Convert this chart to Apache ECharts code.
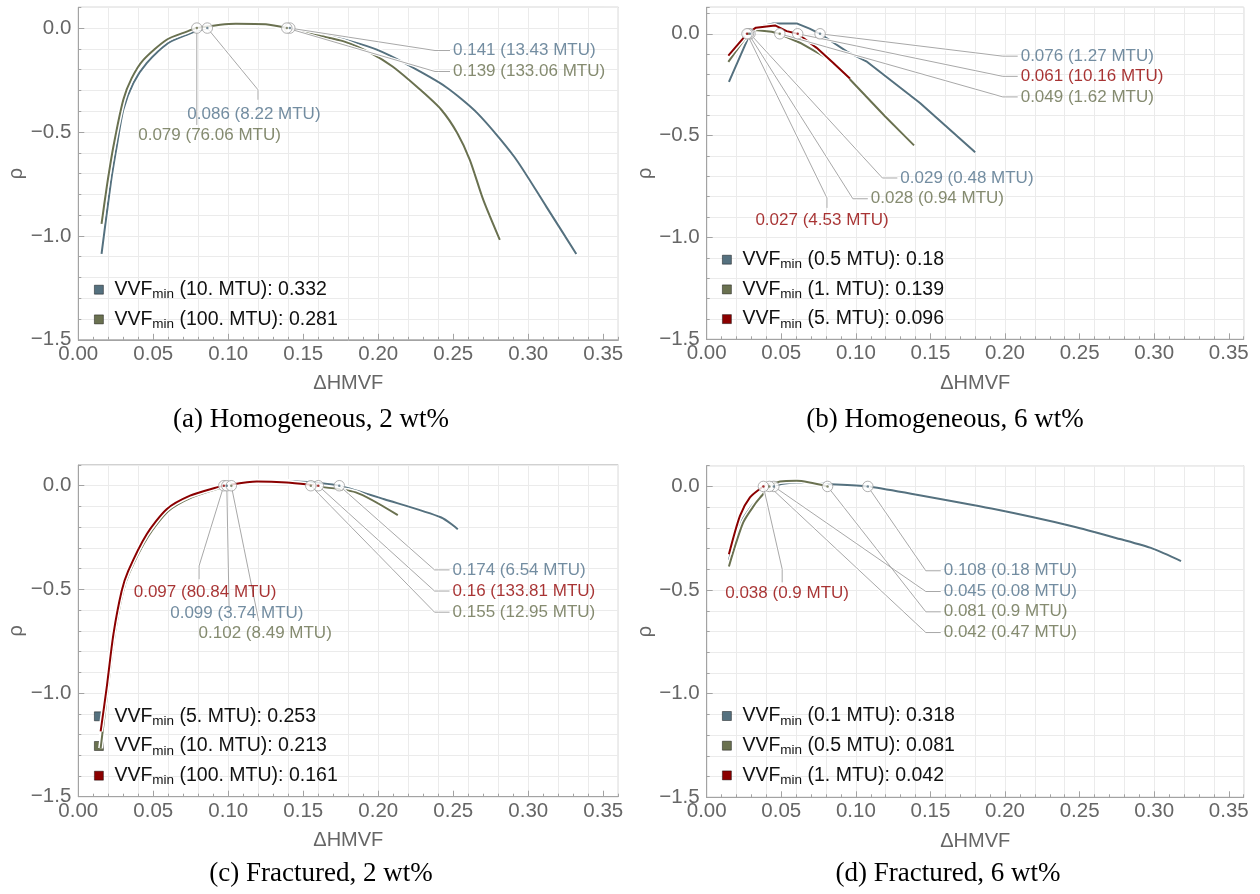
<!DOCTYPE html>
<html>
<head>
<meta charset="utf-8">
<title>rho vs dHMVF</title>
<script src="https://cdn.jsdelivr.net/npm/echarts@6/dist/echarts.min.js"></script>
<style>
  html, body { margin: 0; padding: 0; background: #fff; }
  #chart { width: 1260px; height: 894px; }
</style>
</head>
<body>
<div id="chart"></div>
<script>
// colours: blue, olive, red
const curveColors = ['#55717f', '#6a7150', '#8b0000'];
const textColors = ['#50708a', '#676e4c', '#920000'];

// ---- (a) Homogeneous, 2 wt% ----
const a10X = [0.0155, 0.019, 0.0223, 0.0256, 0.030, 0.0367, 0.0456, 0.060, 0.0723, 0.086, 0.105, 0.125, 0.141, 0.1635, 0.182, 0.199, 0.2176, 0.2446, 0.266, 0.2905, 0.312, 0.332];
const a10Y = [-1.087, -0.891, -0.714, -0.57, -0.393, -0.265, -0.169, -0.072, -0.032, 0.0, 0.021, 0.018, 0.0, -0.032, -0.064, -0.104, -0.169, -0.281, -0.409, -0.618, -0.859, -1.087];
const a100X = [0.0155, 0.019, 0.0234, 0.030, 0.0356, 0.0434, 0.0589, 0.0723, 0.079, 0.105, 0.125, 0.139, 0.16, 0.177, 0.195, 0.2095, 0.228, 0.242, 0.2527, 0.261, 0.270, 0.281];
const a100Y = [-0.942, -0.763, -0.57, -0.345, -0.241, -0.153, -0.056, -0.017, 0.0, 0.021, 0.018, 0.0, -0.036, -0.064, -0.12, -0.185, -0.297, -0.393, -0.506, -0.634, -0.827, -1.019];
const aMtu = ['10.', '100.'];
const aMax = [0.332, 0.281];
const aCrossX = [0.141, 0.139, 0.086, 0.079];
const aCrossMtu = ['13.43', '133.06', '8.22', '76.06'];
const aCrossCurve = [0, 1, 0, 1];

// ---- (b) Homogeneous, 6 wt% ----
const b05X = [0.0149, 0.029, 0.0324, 0.0446, 0.0603, 0.069, 0.076, 0.0938, 0.107, 0.143, 0.18];
const b05Y = [-0.236, 0.0, 0.03, 0.051, 0.051, 0.025, 0.0, -0.086, -0.135, -0.34, -0.582];
const b1X = [0.0145, 0.028, 0.0324, 0.0435, 0.0485, 0.0625, 0.0804, 0.095, 0.1195, 0.1296, 0.139];
const b1Y = [-0.138, 0.0, 0.018, 0.01, 0.0, -0.044, -0.118, -0.216, -0.405, -0.479, -0.548];
const b5X = [0.0145, 0.027, 0.033, 0.0458, 0.0536, 0.061, 0.0737, 0.0849, 0.096];
const b5Y = [-0.107, 0.0, 0.03, 0.041, 0.013, 0.0, -0.069, -0.143, -0.22];
const bMtu = ['0.5', '1.', '5.'];
const bMax = [0.18, 0.139, 0.096];
const bCrossX = [0.076, 0.061, 0.049, 0.029, 0.028, 0.027];
const bCrossMtu = ['1.27', '10.16', '1.62', '0.48', '0.94', '4.53'];
const bCrossCurve = [0, 2, 1, 0, 1, 2];

// ---- (c) Fractured, 2 wt% ----
const c5X = [0.0149, 0.0192, 0.0237, 0.0292, 0.0337, 0.046, 0.0595, 0.075, 0.093, 0.099, 0.12, 0.145, 0.162, 0.174, 0.204, 0.242, 0.253];
const c5Y = [-1.24, -0.98, -0.72, -0.515, -0.415, -0.24, -0.118, -0.052, -0.01, 0.0, 0.021, 0.02, 0.012, 0.0, -0.065, -0.153, -0.21];
const c10X = [0.0149, 0.0195, 0.024, 0.0295, 0.034, 0.0465, 0.06, 0.076, 0.094, 0.102, 0.122, 0.14, 0.155, 0.185, 0.213];
const c10Y = [-1.266, -0.99, -0.73, -0.52, -0.42, -0.245, -0.122, -0.055, -0.012, 0.0, 0.02, 0.014, 0.0, -0.032, -0.142];
const c100X = [0.0149, 0.0189, 0.0234, 0.0289, 0.0333, 0.0456, 0.0589, 0.0745, 0.0923, 0.097, 0.119, 0.139, 0.155, 0.161];
const c100Y = [-1.185, -0.975, -0.717, -0.508, -0.411, -0.234, -0.113, -0.048, -0.008, 0.0, 0.021, 0.016, 0.004, -0.002];
const cMtu = ['5.', '10.', '100.'];
const cMax = [0.253, 0.213, 0.161];
const cCrossX = [0.174, 0.16, 0.155, 0.097, 0.099, 0.102];
const cCrossMtu = ['6.54', '133.81', '12.95', '80.84', '3.74', '8.49'];
const cCrossCurve = [0, 2, 1, 2, 0, 1];

// ---- (d) Fractured, 6 wt% ----
const d01X = [0.0149, 0.0223, 0.0313, 0.045, 0.0603, 0.0804, 0.108, 0.137, 0.191, 0.245, 0.277, 0.299, 0.318];
const d01Y = [-0.355, -0.182, -0.085, 0.0, 0.019, 0.012, 0.0, -0.035, -0.107, -0.192, -0.254, -0.30, -0.36];
const d05X = [0.0149, 0.0245, 0.0324, 0.0369, 0.042, 0.0491, 0.0603, 0.081];
const d05Y = [-0.386, -0.174, -0.085, -0.045, 0.0, 0.024, 0.027, 0.0];
const d1X = [0.0149, 0.0223, 0.029, 0.0369, 0.038, 0.042];
const d1Y = [-0.327, -0.142, -0.053, -0.005, 0.0, 0.01];
const dMtu = ['0.1', '0.5', '1.'];
const dMax = [0.318, 0.081, 0.042];
const dCrossX = [0.108, 0.045, 0.081, 0.042, 0.038];
const dCrossMtu = ['0.18', '0.08', '0.9', '0.47', '0.9'];
const dCrossCurve = [0, 0, 1, 1, 2];

// callout label placement (data units of each panel)
const aCallouts = [
  { lx: 0.2498, ly: -0.108, align: 'left' },
  { lx: 0.2498, ly: -0.209, align: 'left' },
  { lx: 0.1171, ly: -0.414, align: 'center', path: [[0.1198, -0.297], [0.1198, -0.345]] },
  { lx: 0.0875, ly: -0.514, align: 'center', path: [[0.079, -0.466]] }
];
const bCallouts = [
  { lx: 0.2105, ly: -0.110, align: 'left' },
  { lx: 0.2105, ly: -0.209, align: 'left' },
  { lx: 0.2105, ly: -0.310, align: 'left' },
  { lx: 0.1298, ly: -0.708, align: 'left' },
  { lx: 0.1100, ly: -0.810, align: 'left' },
  { lx: 0.0773, ly: -0.918, align: 'center', path: [[0.0806, -0.806], [0.0806, -0.855]] }
];
const cCallouts = [
  { lx: 0.2495, ly: -0.406, align: 'left' },
  { lx: 0.2495, ly: -0.508, align: 'left' },
  { lx: 0.2495, ly: -0.610, align: 'left' },
  { lx: 0.0845, ly: -0.516, align: 'center', path: [[0.0805, -0.387], [0.0805, -0.451]] },
  { lx: 0.1057, ly: -0.616, align: 'center', path: [[0.1005, -0.580]] },
  { lx: 0.1246, ly: -0.714, align: 'center', path: [[0.1203, -0.653]] }
];
const dCallouts = [
  { lx: 0.1589, ly: -0.407, align: 'left' },
  { lx: 0.1589, ly: -0.507, align: 'left' },
  { lx: 0.1589, ly: -0.605, align: 'left' },
  { lx: 0.1589, ly: -0.705, align: 'left' },
  { lx: 0.0539, ly: -0.515, align: 'center', path: [[0.0506, -0.399], [0.0506, -0.463]] }
];

const panels = [
  { grid: { left: 78.3, top: 7.3, width: 540, height: 332.5 }, ymax: 0.1, smooth: 0.25,
    xs: [a10X, a100X], ys: [a10Y, a100Y], mtu: aMtu, max: aMax,
    crossX: aCrossX, crossMtu: aCrossMtu, crossCurve: aCrossCurve, callouts: aCallouts,
    legend: { left: 89, top: 274.7 }, caption: '(a) Homogeneous, 2 wt%', capX: 311, capY: 420 },
  { grid: { left: 706.7, top: 7.3, width: 537, height: 332 }, ymax: 0.13, smooth: false,
    xs: [b05X, b1X, b5X], ys: [b05Y, b1Y, b5Y], mtu: bMtu, max: bMax,
    crossX: bCrossX, crossMtu: bCrossMtu, crossCurve: bCrossCurve, callouts: bCallouts,
    legend: { left: 717, top: 244.7 }, caption: '(b) Homogeneous, 6 wt%', capX: 945, capY: 420 },
  { grid: { left: 78.3, top: 465, width: 540, height: 331.7 }, ymax: 0.1, smooth: 0.25,
    xs: [c5X, c10X, c100X], ys: [c5Y, c10Y, c100Y], mtu: cMtu, max: cMax,
    crossX: cCrossX, crossMtu: cCrossMtu, crossCurve: cCrossCurve, callouts: cCallouts,
    legend: { left: 89, top: 701.3 }, caption: '(c) Fractured, 2 wt%', capX: 321, capY: 874 },
  { grid: { left: 706.7, top: 465.7, width: 537, height: 331.6 }, ymax: 0.1, smooth: 0.25,
    xs: [d01X, d05X, d1X], ys: [d01Y, d05Y, d1Y], mtu: dMtu, max: dMax,
    crossX: dCrossX, crossMtu: dCrossMtu, crossCurve: dCrossCurve, callouts: dCallouts,
    legend: { left: 717, top: 701 }, caption: '(d) Fractured, 6 wt%', capX: 948, capY: 874 }
];

const SANS = 'Liberation Sans, Arial, sans-serif';
const frameColor = '#a3a3a3';
const gridColor = '#ebebeb';
const labelGray = '#666666';

const zip = (xs, ys) => xs.map((x, i) => [x, ys[i]]);
const minus = v => (v < 0 ? '\u2212' : '') + Math.abs(v).toFixed(1);

const grids = [], xAxes = [], yAxes = [], series = [], legends = [], graphics = [];

panels.forEach((p, i) => {
  grids.push(Object.assign({ show: true, borderColor: frameColor, borderWidth: 1, backgroundColor: '#fff', containLabel: false }, p.grid));

  // main x axis: labels + major ticks
  xAxes.push({
    gridIndex: i, type: 'value', min: 0, max: 0.36, interval: 0.05, position: 'bottom',
    axisLine: { show: true, onZero: false, lineStyle: { color: frameColor } },
    axisTick: { show: true, inside: true, length: 6, lineStyle: { color: frameColor } },
    splitLine: { show: false },
    axisLabel: { color: labelGray, fontSize: 20.5, fontFamily: SANS, margin: 4, showMaxLabel: false,
      formatter: v => v.toFixed(2) },
    name: '\u0394HMVF', nameLocation: 'middle', nameGap: 34,
    nameTextStyle: { color: labelGray, fontSize: 20, fontFamily: SANS }
  });
  // minor x ticks
  xAxes.push({
    gridIndex: i, type: 'value', min: 0, max: 0.36, interval: 0.01, position: 'bottom',
    axisLine: { show: false, onZero: false },
    axisTick: { show: true, inside: true, length: 3, lineStyle: { color: frameColor } },
    axisLabel: { show: false }, splitLine: { show: false }
  });
  // x grid lines
  xAxes.push({
    gridIndex: i, type: 'value', min: 0, max: 0.36, interval: 0.02, position: 'bottom',
    axisLine: { show: false, onZero: false }, axisTick: { show: false }, axisLabel: { show: false },
    splitLine: { show: true, lineStyle: { color: gridColor, width: 1 } }, z: 0
  });
  // main y axis
  yAxes.push({
    gridIndex: i, type: 'value', min: -1.5, max: p.ymax, interval: 0.5, position: 'left',
    axisLine: { show: true, onZero: false, lineStyle: { color: frameColor } },
    axisTick: { show: true, inside: true, length: 6, lineStyle: { color: frameColor } },
    splitLine: { show: false },
    axisLabel: { color: labelGray, fontSize: 20.5, fontFamily: SANS, margin: 7, showMaxLabel: false, formatter: minus },
    name: '\u03c1', nameLocation: 'middle', nameGap: 37,
    nameTextStyle: { color: labelGray, fontSize: 20, fontFamily: SANS }
  });
  // minor y ticks + grid lines
  yAxes.push({
    gridIndex: i, type: 'value', min: -1.5, max: p.ymax, interval: 0.1, position: 'left',
    axisLine: { show: false, onZero: false },
    axisTick: { show: true, inside: true, length: 3, lineStyle: { color: frameColor } },
    axisLabel: { show: false },
    splitLine: { show: true, lineStyle: { color: gridColor, width: 1 } }
  });

  const xi = i * 3, yi = i * 2;
  const names = p.mtu.map((m, k) => `VVF_min (${m} MTU): ${p.max[k]}`);

  // curves with white halo
  p.xs.forEach((xs, k) => {
    const data = zip(xs, p.ys[k]);
    series.push({
      type: 'line', xAxisIndex: xi, yAxisIndex: yi, data, showSymbol: false, smooth: p.smooth,
      lineStyle: { color: '#fff', width: 5 }, silent: true, z: 2 + k * 2
    });
    series.push({
      name: names[k], type: 'line', xAxisIndex: xi, yAxisIndex: yi, data, showSymbol: false, smooth: p.smooth,
      lineStyle: { color: curveColors[k], width: 2 }, itemStyle: { color: curveColors[k] }, z: 3 + k * 2
    });
  });

  // leader lines
  p.callouts.forEach((c, j) => {
    const start = [p.crossX[j], 0];
    const path = c.path ? c.path : [[c.lx - 0.012, c.ly], [c.lx - 0.002, c.ly]];
    const data = [start].concat(path);
    series.push({
      type: 'line', xAxisIndex: xi, yAxisIndex: yi, data, showSymbol: false, silent: true,
      lineStyle: { color: '#fff', width: 3 }, z: 10
    });
    series.push({
      type: 'line', xAxisIndex: xi, yAxisIndex: yi, data, showSymbol: false, silent: true,
      lineStyle: { color: '#a8a8a8', width: 1 }, z: 11
    });
  });

  // callout circles
  series.push({
    type: 'scatter', xAxisIndex: xi, yAxisIndex: yi, symbolSize: 10.5, silent: true, z: 12,
    data: p.crossX.map(x => [x, 0]),
    itemStyle: { color: '#fff', borderColor: '#9d9d9d', borderWidth: 1 }
  });
  series.push({
    type: 'scatter', xAxisIndex: xi, yAxisIndex: yi, symbolSize: 2.5, silent: true, z: 13,
    data: p.crossX.map((x, j) => ({ value: [x, 0], itemStyle: { color: curveColors[p.crossCurve[j]] } }))
  });

  // callout labels
  series.push({
    type: 'scatter', xAxisIndex: xi, yAxisIndex: yi, symbolSize: 0, silent: true, z: 14,
    data: p.callouts.map((c, j) => ({
      value: [c.lx, c.ly],
      label: {
        show: true, position: 'inside', align: c.align, verticalAlign: 'middle',
        color: textColors[p.crossCurve[j]], fontSize: 17, fontFamily: SANS,
        formatter: `${p.crossX[j]} (${p.crossMtu[j]} MTU)`
      }
    }))
  });

  legends.push({
    show: true, orient: 'vertical', left: p.legend.left, top: p.legend.top,
    itemWidth: 9, itemHeight: 9, itemGap: 7.7, icon: 'rect', selectedMode: false,
    data: names,
    itemStyle: { borderColor: 'rgba(0,0,0,0.55)', borderWidth: 0.8 },
    formatter: n => '{g| }{t|VVF}{s|min}{t|' + n.slice(7) + '}',
    textStyle: {
      rich: {
        g: { width: 6, fontSize: 10, lineHeight: 24 },
        t: { fontSize: 19.5, fontFamily: SANS, color: '#111', lineHeight: 24 },
        s: { fontSize: 13.5, fontFamily: SANS, color: '#111', lineHeight: 12, verticalAlign: 'bottom' }
      }
    }
  });

  graphics.push({
    type: 'text', x: p.capX, y: p.capY,
    style: {
      text: p.caption, fill: '#000', fontSize: 27, fontFamily: 'Liberation Serif, Times New Roman, serif',
      align: 'center', verticalAlign: 'middle', textAlign: 'center', textVerticalAlign: 'middle'
    }
  });
});

const chart = echarts.init(document.getElementById('chart'));
chart.setOption({
  animation: false,
  backgroundColor: '#fff',
  grid: grids,
  xAxis: xAxes,
  yAxis: yAxes,
  legend: legends,
  series,
  graphic: graphics
});
</script>
</body>
</html>
